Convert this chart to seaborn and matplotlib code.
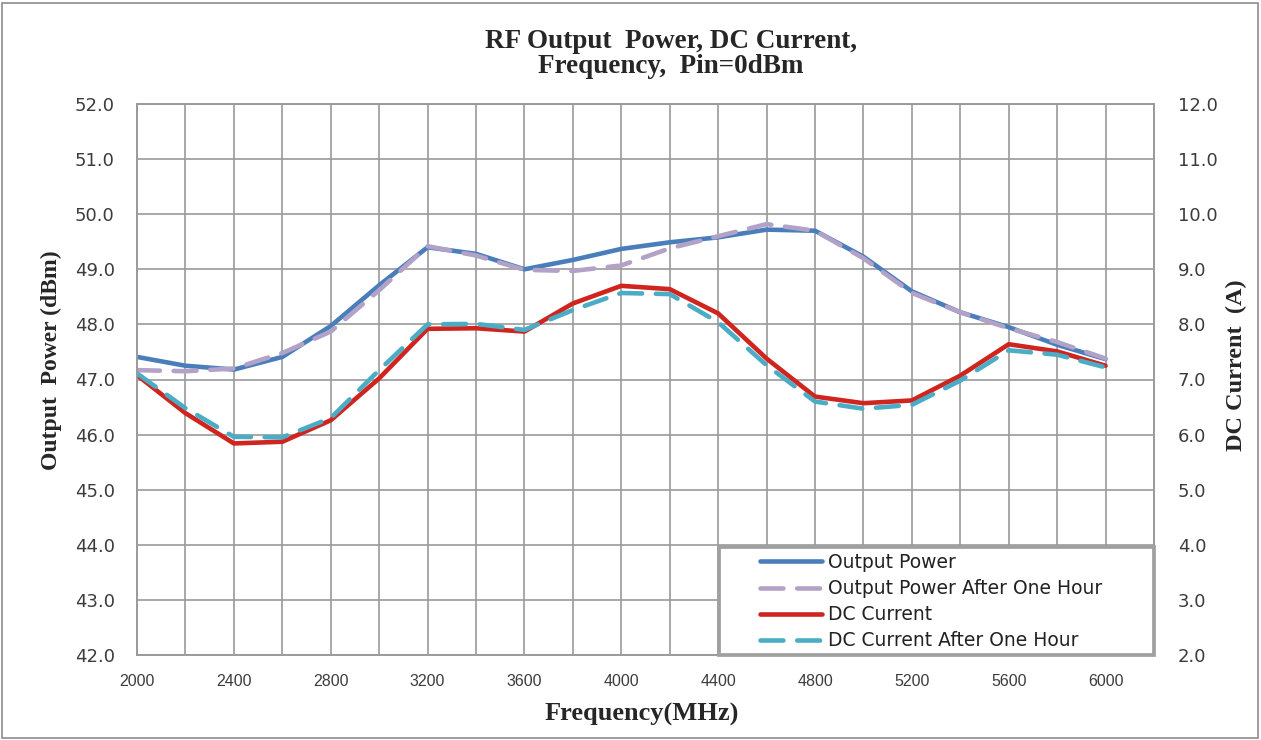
import numpy as np
import pandas as pd
import matplotlib
matplotlib.use("Agg")
import matplotlib.pyplot as plt
from matplotlib.ticker import MultipleLocator, FormatStrFormatter
from matplotlib.patches import Rectangle
import seaborn as sns

# ---------------- data ----------------
freq = [2000, 2200, 2400, 2600, 2800, 3000, 3200, 3400, 3600, 3800, 4000,
        4200, 4400, 4600, 4800, 5000, 5200, 5400, 5600, 5800, 6000]
output_power = [47.41, 47.25, 47.18, 47.41, 47.97, 48.71, 49.40, 49.28, 49.00, 49.17, 49.37,
                 49.49, 49.58, 49.72, 49.70, 49.23, 48.60, 48.22, 47.95, 47.63, 47.37]
output_power_1h = [47.17, 47.15, 47.20, 47.48, 47.87, 48.62, 49.42, 49.25, 48.99, 48.97, 49.07,
                   49.38, 49.60, 49.82, 49.70, 49.20, 48.57, 48.22, 47.93, 47.68, 47.38]
dc_current = [7.08, 6.39, 5.84, 5.87, 6.26, 7.02, 7.92, 7.93, 7.87, 8.38, 8.70,
              8.64, 8.20, 7.38, 6.69, 6.57, 6.62, 7.07, 7.64, 7.51, 7.25]
dc_current_1h = [7.11, 6.48, 5.96, 5.95, 6.30, 7.17, 8.00, 8.01, 7.90, 8.26, 8.57,
                 8.55, 8.04, 7.26, 6.60, 6.47, 6.54, 6.98, 7.53, 7.45, 7.22]

series_labels = ["Output Power", "Output Power After One Hour",
                 "DC Current", "DC Current After One Hour"]
title_text = "RF Output  Power, DC Current,\nFrequency,  Pin=0dBm"
xlabel_text = "Frequency(MHz)"
ylabel_left = "Output  Power (dBm)"
ylabel_right = "DC Current  (A)"

df = pd.DataFrame({"freq": freq, "p": output_power, "p1": output_power_1h,
                   "dc": dc_current, "dc1": dc_current_1h})

# ---------------- style ----------------
sns.set_style("white")
plt.rcParams["font.family"] = ["DejaVu Sans"]

W, H = 1261, 740
fig = plt.figure(figsize=(W / 100, H / 100), dpi=100)
ax = fig.add_axes([137 / W, 1 - 655 / H, (1154 - 137) / W, (655 - 104) / H])
ax2 = ax.twinx()

c_blue = "#4A7EBB"
c_lav = "#B3A2C7"
c_red = "#D0241E"
c_teal = "#4BACC6"
lw = 3.3

sns.lineplot(data=df, x="freq", y="p", ax=ax, color=c_blue, linewidth=lw,
             label=series_labels[0], legend=False)
sns.lineplot(data=df, x="freq", y="p1", ax=ax, color=c_lav, linewidth=lw,
             label=series_labels[1], legend=False)
sns.lineplot(data=df, x="freq", y="dc", ax=ax2, color=c_red, linewidth=lw,
             label=series_labels[2], legend=False)
sns.lineplot(data=df, x="freq", y="dc1", ax=ax2, color=c_teal, linewidth=lw,
             label=series_labels[3], legend=False)

l_blue, l_lav = ax.get_lines()[-2:]
l_red, l_teal = ax2.get_lines()[-2:]
for ln in (l_lav, l_teal):
    ln.set_dashes([5, 3])
for ln in (l_blue, l_lav, l_red, l_teal):
    ln.set_solid_capstyle("round")
    ln.set_dash_capstyle("round")
    ln.set_solid_joinstyle("round")

# axes ranges & ticks
ax.set_xlim(2000, 6200)
ax.set_ylim(42, 52)
ax2.set_ylim(2, 12)
ax.xaxis.set_major_locator(MultipleLocator(400))
ax.xaxis.set_minor_locator(MultipleLocator(200))
ax.yaxis.set_major_locator(MultipleLocator(1))
ax2.yaxis.set_major_locator(MultipleLocator(1))
ax.yaxis.set_major_formatter(FormatStrFormatter("%.1f"))
ax2.yaxis.set_major_formatter(FormatStrFormatter("%.1f"))
ax.set_xticks([f for f in freq if (f - 2000) % 400 == 0])

grid_c = "#9A9A9A"
ax.grid(True, which="both", axis="x", color=grid_c, linewidth=1.2)
ax.grid(True, which="major", axis="y", color=grid_c, linewidth=1.2)
ax2.grid(False)
ax.set_axisbelow(True)

tick_c = "#3C3C3C"
ax.tick_params(axis="y", which="both", length=0, pad=16, labelsize=13, labelcolor=tick_c)
ax2.tick_params(axis="y", which="both", length=0, pad=17, labelsize=13, labelcolor=tick_c)
ax.tick_params(axis="x", which="both", length=0, pad=14, labelsize=11.5, labelcolor=tick_c)
for lab in ax.get_xticklabels():
    lab.set_family(["Liberation Sans Narrow", "Liberation Sans"])

for a in (ax, ax2):
    for s in a.spines.values():
        s.set_color(grid_c)
        s.set_linewidth(1.2)

ax.set_xlabel("")
ax.set_ylabel("")
ax2.set_ylabel("")

serif = ["Liberation Serif", "DejaVu Serif"]
fig.text(671 / W, 1 - 54 / H, title_text, ha="center", va="center", family=serif,
         fontweight="bold", fontsize=19.5, linespacing=1.05)
fig.text(642 / W, 1 - 714 / H, xlabel_text, ha="center", va="center", family=serif,
         fontweight="bold", fontsize=19)
fig.text(51 / W, 1 - 360 / H, ylabel_left, ha="center", va="center", rotation=90,
         family=serif, fontweight="bold", fontsize=17)
fig.text(1236 / W, 1 - 365 / H, ylabel_right, ha="center", va="center", rotation=90,
         family=serif, fontweight="bold", fontsize=17.5)

# legend box
x0 = (719 - 137) / (1154 - 137)
y1 = (655 - 547) / (655 - 104)
ax2.add_patch(Rectangle((x0, 0), 1 - x0, y1, transform=ax2.transAxes,
                        facecolor="white", edgecolor="#A0A0A0", linewidth=2.7,
                        zorder=4, clip_on=False))
handles = [l_blue, l_lav, l_red, l_teal]
leg = ax2.legend(handles, series_labels, loc="upper left",
                 bbox_to_anchor=((760 - 137) / (1154 - 137), (655 - 553) / (655 - 104)),
                 frameon=False, fontsize=13.5, handlelength=3.3, handletextpad=0.3,
                 labelspacing=0.38, borderpad=0, borderaxespad=0)
leg.set_zorder(5)
for t in leg.get_texts():
    t.set_color("#222222")

# outer chart border
fig.add_artist(Rectangle((2 / W, 2 / H), 1 - 5 / W, 1 - 5 / H, transform=fig.transFigure,
                         fill=False, edgecolor="#8C8C8C", linewidth=1.2))

fig.savefig("out.png", dpi=100)
